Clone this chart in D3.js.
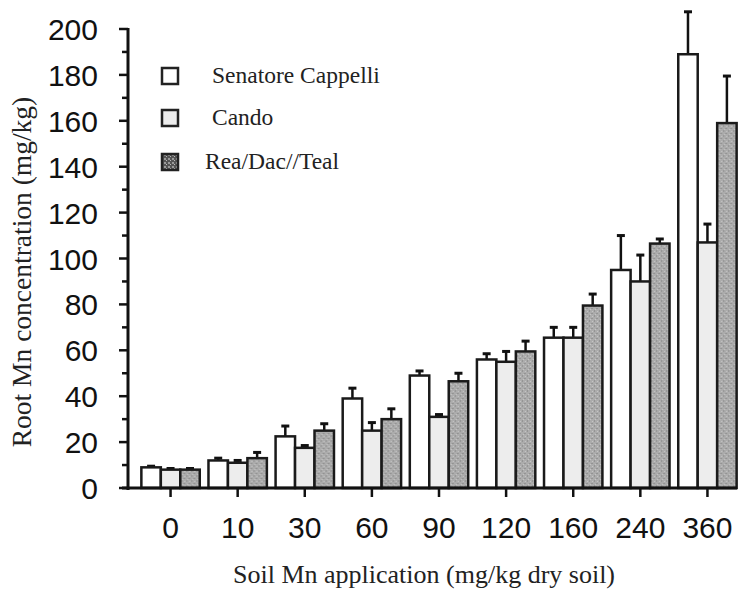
<!DOCTYPE html>
<html>
  <meta charset="utf-8">
  <head>
    <script src="https://d3js.org/d3.v7.min.js"></script>
    <style>
      body { margin: 0; background: #fff; }
    </style>
  </head>
  <body>
    <div id="viz"></div>

    <script type="text/javascript">
      // data
      var rates = ["0", "10", "30", "60", "90", "120", "160", "240", "360"];
      var series = ["Senatore Cappelli", "Cando", "Rea/Dac//Teal"];
      var cappelli = [9, 12, 22.5, 39, 49, 56, 65.5, 95, 189];
      var cappelliErr = [0.5, 1, 4.5, 4.5, 2, 2.5, 4.5, 15, 18.5];
      var cando = [8, 11, 17.5, 25, 31, 55, 65.5, 90, 107];
      var candoErr = [0.5, 1, 1, 3.5, 1, 4.5, 4.5, 11.5, 8];
      var teal = [8, 13, 25, 30, 46.5, 59.5, 79.5, 106.5, 159];
      var tealErr = [0.5, 2.5, 3, 4.5, 3.5, 4.5, 5, 2, 20.5];
      var yTicks = [0, 20, 40, 60, 80, 100, 120, 140, 160, 180, 200];

      var W = 739, H = 596;
      var svg = d3.select("#viz").append("svg")
        .attr("width", W)
        .attr("height", H);

      // speckled fill for Rea/Dac//Teal
      var defs = svg.append("defs");
      var pat = defs.append("pattern")
        .attr("id", "speckle")
        .attr("patternUnits", "userSpaceOnUse")
        .attr("width", 5).attr("height", 5);
      pat.append("rect").attr("width", 5).attr("height", 5).attr("fill", "#acacac");
      pat.append("rect").attr("x", 0).attr("y", 0).attr("width", 1).attr("height", 2).attr("fill", "#939393");
      pat.append("rect").attr("x", 2).attr("y", 3).attr("width", 2).attr("height", 1).attr("fill", "#939393");
      pat.append("rect").attr("x", 3).attr("y", 1).attr("width", 1).attr("height", 1).attr("fill", "#c6c6c6");
      pat.append("rect").attr("x", 1).attr("y", 4).attr("width", 1).attr("height", 1).attr("fill", "#c6c6c6");

      var pat2 = defs.append("pattern")
        .attr("id", "speckleDark")
        .attr("patternUnits", "userSpaceOnUse")
        .attr("width", 4).attr("height", 4);
      pat2.append("rect").attr("width", 4).attr("height", 4).attr("fill", "#555");
      pat2.append("rect").attr("x", 0).attr("y", 0).attr("width", 2).attr("height", 2).attr("fill", "#9a9a9a");
      pat2.append("rect").attr("x", 2).attr("y", 2).attr("width", 1).attr("height", 1).attr("fill", "#bbb");

      var fills = ["#ffffff", "#ededed", "url(#speckle)"];

      var axisX = 128, y0px = 488;

      var y = d3.scaleLinear().domain([0, 200]).range([y0px, 29]);
      var x0 = d3.scaleBand().domain(rates).range([137, 741])
        .paddingInner(0.13).paddingOuter(0.065);
      var x1 = d3.scaleBand().domain(series).range([0, x0.bandwidth()]);

      var rows = rates.map(function (r, i) {
        return {
          rate: r,
          vals: [
            {s: series[0], v: cappelli[i], e: cappelliErr[i], k: 0},
            {s: series[1], v: cando[i], e: candoErr[i], k: 1},
            {s: series[2], v: teal[i], e: tealErr[i], k: 2}
          ]
        };
      });

      // error bars (drawn first so the bar outline sits on top)
      var groups = svg.selectAll(".grp")
        .data(rows)
        .enter().append("g")
          .attr("transform", function (d) { return "translate(" + x0(d.rate) + ",0)"; });

      groups.selectAll(".err")
        .data(function (d) { return d.vals; })
        .enter().append("line")
          .attr("x1", function (d) { return x1(d.s) + x1.bandwidth() / 2; })
          .attr("x2", function (d) { return x1(d.s) + x1.bandwidth() / 2; })
          .attr("y1", function (d) { return y(d.v); })
          .attr("y2", function (d) { return y(d.v + d.e); })
          .attr("stroke", "#111").attr("stroke-width", 2.5);

      groups.selectAll(".cap")
        .data(function (d) { return d.vals; })
        .enter().append("line")
          .attr("x1", function (d) { return x1(d.s) + x1.bandwidth() / 2 - 4; })
          .attr("x2", function (d) { return x1(d.s) + x1.bandwidth() / 2 + 4; })
          .attr("y1", function (d) { return y(d.v + d.e); })
          .attr("y2", function (d) { return y(d.v + d.e); })
          .attr("stroke", "#111").attr("stroke-width", 3);

      groups.selectAll(".bar")
        .data(function (d) { return d.vals; })
        .enter().append("rect")
          .attr("x", function (d) { return x1(d.s); })
          .attr("y", function (d) { return y(d.v); })
          .attr("width", x1.bandwidth())
          .attr("height", function (d) { return y0px - y(d.v); })
          .attr("fill", function (d) { return fills[d.k]; })
          .attr("stroke", "#1a1a1a")
          .attr("stroke-width", 2.5);

      // Y axis with minor ticks
      var yAxis = svg.append("g")
        .attr("transform", "translate(" + axisX + ",0)");
      yAxis.append("line")
        .attr("x1", 0).attr("x2", 0)
        .attr("y1", y(200) - 1).attr("y2", y0px + 2)
        .attr("stroke", "#111").attr("stroke-width", 3);
      yAxis.selectAll(".minor")
        .data(d3.range(10, 200, 20))
        .enter().append("line")
          .attr("x1", -6).attr("x2", 0)
          .attr("y1", function (d) { return y(d); })
          .attr("y2", function (d) { return y(d); })
          .attr("stroke", "#111").attr("stroke-width", 2.5);
      yAxis.selectAll(".major")
        .data(yTicks)
        .enter().append("line")
          .attr("x1", -9).attr("x2", 0)
          .attr("y1", function (d) { return y(d); })
          .attr("y2", function (d) { return y(d); })
          .attr("stroke", "#111").attr("stroke-width", 2.5);
      yAxis.selectAll(".lab")
        .data(yTicks)
        .enter().append("text")
          .attr("x", -30)
          .attr("y", function (d) { return y(d) + 11; })
          .attr("text-anchor", "end")
          .attr("font-family", "Liberation Sans, Arial, sans-serif")
          .attr("font-size", 30)
          .attr("fill", "#111")
          .text(function (d) { return d; });

      // X axis
      var xAxis = svg.append("g");
      xAxis.append("line")
        .attr("x1", axisX - 6).attr("x2", 737)
        .attr("y1", y0px).attr("y2", y0px)
        .attr("stroke", "#111").attr("stroke-width", 3);
      xAxis.selectAll(".xt")
        .data(rates)
        .enter().append("line")
          .attr("x1", function (d) { return x0(d) + x0.bandwidth() / 2; })
          .attr("x2", function (d) { return x0(d) + x0.bandwidth() / 2; })
          .attr("y1", y0px).attr("y2", y0px + 9)
          .attr("stroke", "#111").attr("stroke-width", 2.5);
      xAxis.selectAll(".xl")
        .data(rates)
        .enter().append("text")
          .attr("x", function (d) { return x0(d) + x0.bandwidth() / 2; })
          .attr("y", 538)
          .attr("text-anchor", "middle")
          .attr("font-family", "Liberation Sans, Arial, sans-serif")
          .attr("font-size", 30)
          .attr("fill", "#111")
          .text(function (d) { return d; });

      // axis titles
      svg.append("text")
        .attr("x", 424).attr("y", 583)
        .attr("text-anchor", "middle")
        .attr("font-family", "Liberation Serif, Times New Roman, serif")
        .attr("font-size", 26)
        .attr("fill", "#222")
        .text("Soil Mn application (mg/kg dry soil)");

      svg.append("text")
        .attr("transform", "translate(31,272) rotate(-90)")
        .attr("text-anchor", "middle")
        .attr("font-family", "Liberation Serif, Times New Roman, serif")
        .attr("font-size", 27.5)
        .attr("fill", "#222")
        .text("Root Mn concentration (mg/kg)");

      // legend
      var legY = [76, 118, 162];
      var legX = [212, 212, 205];
      var legFill = ["#ffffff", "#ededed", "url(#speckleDark)"];
      var leg = svg.selectAll(".leg")
        .data(series)
        .enter().append("g")
          .attr("transform", function (d, i) { return "translate(0," + legY[i] + ")"; });
      leg.append("rect")
        .attr("x", 162).attr("y", -8)
        .attr("width", 16).attr("height", 16)
        .attr("fill", function (d, i) { return legFill[i]; })
        .attr("stroke", "#222")
        .attr("stroke-width", 2.5);
      leg.append("text")
        .attr("x", function (d, i) { return legX[i]; })
        .attr("y", 7)
        .attr("font-family", "Liberation Serif, Times New Roman, serif")
        .attr("font-size", 23.5)
        .attr("fill", "#222")
        .text(function (d) { return d; });
    </script>
  </body>
</html>
